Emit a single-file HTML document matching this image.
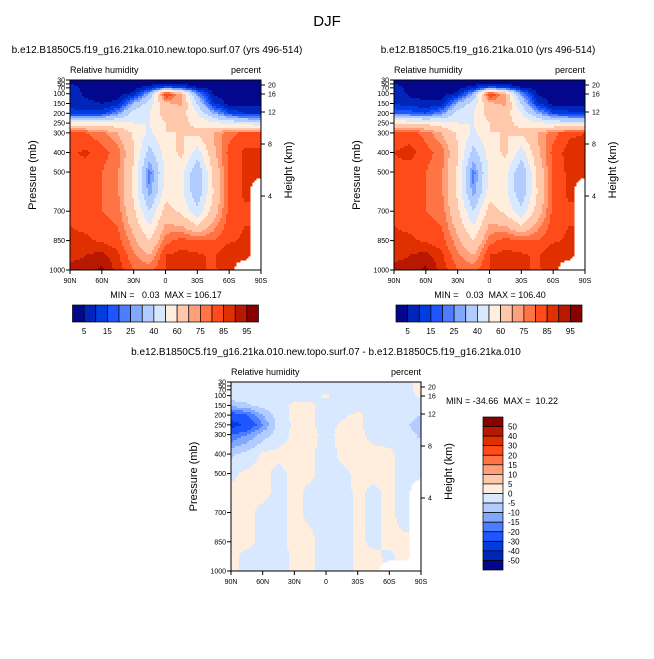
<!DOCTYPE html>
<html><head><meta charset="utf-8"><style>
body{margin:0;background:#fff;}
svg text{font-family:"Liberation Sans",Arial,sans-serif;fill:#000;white-space:pre;}
</style></head><body>
<svg id="fig" width="654" height="654" viewBox="0 0 654 654" xmlns="http://www.w3.org/2000/svg">
<rect width="654" height="654" fill="#fff"/>
<text x="327" y="26" font-size="15" text-anchor="middle">DJF</text>
</svg>
<script>
// ---- data ----
const lats = ["90N","75N","60N","45N","30N","15N","0","15S","30S","45S","60S","75S","90S"];
const levels = [30,50,70,100,150,200,250,300,400,500,600,700,850,925,1000];
const pTicks = [30,50,70,100,150,200,250,300,400,500,700,850,1000];
const xTickLabels = ["90N","60N","30N","0","30S","60S","90S"];
const hTicks = [20,16,12,8,4];
const hTickOffsets = [5,14,32,64,116]; // axis-geometry for nonlinear height axis
const rhBounds = [5,10,15,20,25,30,40,50,60,70,75,80,85,90,95];
const rhBoundLabels = ["5","","15","","25","","40","","60","","75","","85","","95"];
const diffBounds = [-50,-40,-30,-20,-15,-10,-5,0,5,10,15,20,30,40,50];
const rhCase = [
[4,3,3,3,3,3,3,3,3,3,3,3,3],
[5,3,3,3,3,3,3,3,3,3,3,3,3],
[8,3,3,3,3,8,20,15,5,3,3,3,3],
[8,4,3,3,6,30,88,70,25,4,3,3,3],
[8,6,5,6,30,45,68,72,40,10,3,3,3],
[12,12,12,25,45,50,65,65,50,30,15,10,10],
[55,55,55,52,50,50,60,62,58,52,48,45,40],
[80,80,77,70,58,48,60,60,62,70,78,82,82],
[84,86,82,78,62,35,55,62,45,68,82,86,86],
[84,82,80,76,58,22,52,55,30,62,82,86,86],
[84,82,80,76,58,25,55,52,32,60,82,86,null],
[84,82,80,78,62,40,65,58,42,65,82,84,null],
[86,86,84,82,72,60,78,82,80,80,84,86,null],
[88,90,92,86,76,70,85,87,86,84,90,88,null],
[92,93,96,88,80,78,85,88,86,84,88,null,null]];
const rhCtrl = [
[4,3,3,3,3,3,3,3,3,3,3,3,3],
[5,3,3,3,3,3,3,3,3,3,3,3,3],
[8,3,3,3,3,8,20,15,5,3,3,3,3],
[8,4,3,3,6,30,88,70,25,4,3,3,3],
[9,7,6,6,30,45,68,72,40,10,3,3,3],
[20,18,15,25,45,50,65,65,50,30,15,12,12],
[60,58,57,54,50,50,60,62,58,52,48,46,44],
[82,82,78,70,58,48,60,60,62,70,78,84,85],
[85,87,82,78,62,35,55,62,45,68,82,87,87],
[84,82,80,76,58,22,52,55,30,62,82,86,86],
[84,82,80,76,58,25,55,52,32,60,82,86,null],
[84,82,80,78,62,40,65,58,42,65,82,84,null],
[86,86,84,82,72,60,78,82,80,80,84,86,null],
[88,90,92,86,76,70,85,87,86,84,90,88,null],
[92,93,96,88,80,78,85,88,86,84,88,null,null]];
const rhDiff = [
[-2,-2,-2,-2,-2,-2,-2,-2,-2,-2,-2,-2,2],
[-2,-2,-2,-2,-2,-2,-2,-2,-2,-2,-2,-2,2],
[-2,-2,-2,-2,-2,-2,-2,-2,-2,-2,-2,-2,2],
[-2,-2,-2,-2,-2,-2,1,-2,-2,-2,-2,-2,1],
[-8,-6,-3,-2,1,1,-2,-2,-2,-2,-2,-2,-2],
[-25,-20,-10,-2,1,1,-2,-1,1,-2,-2,-3,-5],
[-35,-28,-15,-3,1,1,-2,1,1,-2,-2,-4,-8],
[-20,-15,-8,-2,1,1,-1,1,1,-1,-2,-3,-6],
[-6,-3,1,1,1,1,-2,1,1,1,1,-2,-2],
[-1,1,1,-1,1,1,-2,-1,1,1,1,-2,-2],
[1,1,1,-1,1,-1,-2,-2,1,-1,1,-2,null],
[1,1,-1,-1,1,-1,-2,-2,1,-1,1,-2,null],
[1,1,-1,-1,1,1,-2,-2,1,-1,1,1,null],
[1,-1,-1,-2,1,1,-2,-2,1,1,-1,2,null],
[1,-1,-2,-2,1,1,-2,-2,1,1,null,null,null]];
const palette = ["#03078c","#0025b8","#003ce0","#1f55ff","#4d7dff","#80a8ff","#b3ccff","#d8e8ff","#ffeedd","#ffc8aa","#ffa07a","#ff7444","#ff4a1a","#e03000","#b81800","#880000"];

// ---- rendering ----
const NS="http://www.w3.org/2000/svg";
const svg=document.getElementById('fig');
function mk(tag,attrs,parent){const e=document.createElementNS(NS,tag);for(const k in attrs)e.setAttribute(k,attrs[k]);(parent||svg).appendChild(e);return e;}
function txt(s,x,y,size,anchor,parent,name){const t=mk('text',{x:x,y:y,'font-size':size,'text-anchor':anchor||'start'},parent);t.textContent=s;


return t;}
function colorIdx(v,b){let i=0;while(i<b.length&&v>=b[i])i++;return i;}

function panel(L,T,W,H,grid,bounds,title,titleX,minmax,name){
  const g=mk('g',{});
  
  
  const yOfP=p=>T+(p-levels[0])/(levels[levels.length-1]-levels[0])*H;
  const step=2;
  for(let py=T;py<T+H;py+=step){
    const p=levels[0]+(py+step/2-T)/H*(levels[levels.length-1]-levels[0]);
    let r=0;while(r<levels.length-2&&p>levels[r+1])r++;
    const fy=(p-levels[r])/(levels[r+1]-levels[r]);
    let runStart=null,runC=null;
    const flush=(xe)=>{if(runC!==null){const rc=mk('rect',{x:runStart,y:py,width:xe-runStart+0.5,height:Math.min(step+0.5,T+H-py),fill:runC},g);
      
      }};
    for(let px=L;px<L+W;px+=step){
      const ci=(px+step/2-L)/W*(lats.length-1);
      const c=Math.min(Math.floor(ci),lats.length-2);const fx=ci-c;
      const a=grid[r][c],b=grid[r][c+1],d=grid[r+1][c],e=grid[r+1][c+1];
      let col=null;
      if(a!==null&&b!==null&&d!==null&&e!==null){
        const v=(a*(1-fx)+b*fx)*(1-fy)+(d*(1-fx)+e*fx)*fy;
        col=palette[colorIdx(v,bounds)];
      }else{
        const vals=[[a,(1-fx)*(1-fy)],[b,fx*(1-fy)],[d,(1-fx)*fy],[e,fx*fy]];
        let s=0,w=0;for(const [v,ww] of vals){if(v!==null){s+=v*ww;w+=ww;}}
        if(w>0.75) col=palette[colorIdx(s/w,bounds)];
      }
      if(col!==runC){flush(px);runStart=px;runC=col;}
    }
    flush(L+W);
  }
  const fr=mk('rect',{x:L,y:T,width:W,height:H,fill:'none',stroke:'#000','stroke-width':1},g);
  
  
  pTicks.forEach(p=>{const y=yOfP(p);mk('line',{x1:L-4,y1:y,x2:L,y2:y,stroke:'#000'},g);
    txt(String(p),L-5,y+2.5,7,'end',g,'y-tick-label');});
  hTicks.forEach((h,i)=>{const y=T+hTickOffsets[i];mk('line',{x1:L+W,y1:y,x2:L+W+4,y2:y,stroke:'#000'},g);
    txt(String(h),L+W+7,y+2.5,7,'start',g,'height-tick-label');});
  xTickLabels.forEach((s,i)=>{const x=L+i/(xTickLabels.length-1)*W;mk('line',{x1:x,y1:T+H,x2:x,y2:T+H+4,stroke:'#000'},g);
    txt(s,x,T+H+13,7,'middle',g,'x-tick-label');});
  const yt=txt('Pressure (mb)',0,0,11,'middle',g,'y-axis-title');yt.setAttribute('transform',`translate(${L-34},${T+H/2}) rotate(-90)`);
  const ht=txt('Height (km)',0,0,11,'middle',g,'height-axis-title');ht.setAttribute('transform',`translate(${L+W+31},${T+H/2-5}) rotate(-90)`);
  txt('Relative humidity',L,T-7,9,'start',g,'variable-label');
  txt('percent',L+W,T-7,9,'end',g,'units-label');
  txt(title,titleX,T-27,10,'middle',g,'panel-title');
  if(minmax) txt(minmax[0],minmax[1],minmax[2],9,minmax[3],g,'min-max-label');
}
function hbar(L,T,W,H,name){
  const g=mk('g',{});
  
  
  const bw=W/palette.length;
  palette.forEach((c,i)=>{const r=mk('rect',{x:L+i*bw,y:T,width:bw,height:H,fill:c,stroke:'#000','stroke-width':0.7},g);
    
    });
  rhBoundLabels.forEach((s,i)=>{if(s)txt(s,L+(i+1)*bw,T+H+12,8,'middle',g,'colorbar-label');});
}
function vbar(L,T,W,H,name){
  const g=mk('g',{});
  
  
  const bh=H/palette.length;
  palette.slice().reverse().forEach((c,i)=>{const r=mk('rect',{x:L,y:T+i*bh,width:W,height:bh,fill:c,stroke:'#000','stroke-width':0.7},g);
    
    });
  diffBounds.slice().reverse().forEach((v,i)=>txt(String(v),L+W+5,T+(i+1)*bh+3,8,'start',g,'colorbar-label'));
}
panel(70,80,191,190,rhCase,rhBounds,'b.e12.B1850C5.f19_g16.21ka.010.new.topo.surf.07 (yrs 496-514)',157,['MIN =   0.03  MAX = 106.17',166,298,'middle'],'panel-case');
panel(394,80,191,190,rhCtrl,rhBounds,'b.e12.B1850C5.f19_g16.21ka.010 (yrs 496-514)',488,['MIN =   0.03  MAX = 106.40',490,298,'middle'],'panel-control');
panel(231,382,190,189,rhDiff,diffBounds,'b.e12.B1850C5.f19_g16.21ka.010.new.topo.surf.07 - b.e12.B1850C5.f19_g16.21ka.010',326,['MIN = -34.66  MAX =  10.22',446,404,'start'],'panel-difference');
hbar(72.5,305,186,17,'colorbar-case');
hbar(396,305,186,17,'colorbar-control');
vbar(483,417,20,153,'colorbar-difference');
</script>
</body></html>
